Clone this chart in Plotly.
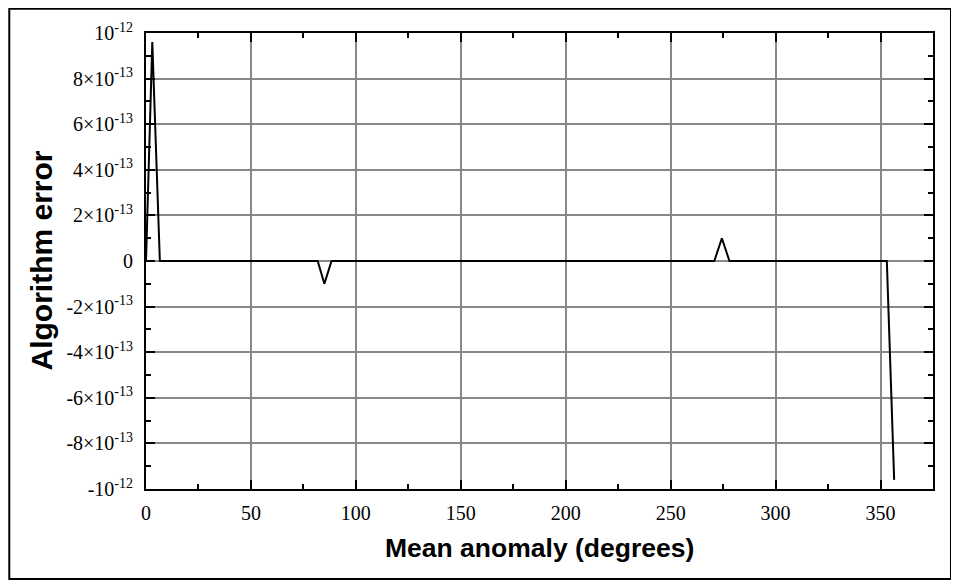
import plotly.graph_objects as go

# Data (mean anomaly in degrees, algorithm error)
mean_anomaly = [0, 3.0, 6.6, 81.8, 85.0, 88.4, 270.8, 274.4, 278.0, 353.0, 356.5]
algorithm_error = [0, 9.6e-13, 0, 0, -1.0e-13, 0, 0, 1.0e-13, 0, 0, -9.6e-13]

x_ticks = [0, 50, 100, 150, 200, 250, 300, 350]
y_tickvals = [-1e-12, -8e-13, -6e-13, -4e-13, -2e-13, 0, 2e-13, 4e-13, 6e-13, 8e-13, 1e-12]
y_ticktext = ["-10<sup>-12</sup>", "-8×10<sup>-13</sup>", "-6×10<sup>-13</sup>",
              "-4×10<sup>-13</sup>", "-2×10<sup>-13</sup>", "0",
              "2×10<sup>-13</sup>", "4×10<sup>-13</sup>", "6×10<sup>-13</sup>",
              "8×10<sup>-13</sup>", "10<sup>-12</sup>"]

# page body has an 8px margin, so the figure is drawn 8px right/down
W, H = 951, 573
L, R, T, B = 137.5, 925, 25, 481

fig = go.Figure()
fig.add_trace(go.Scatter(x=mean_anomaly, y=algorithm_error, mode="lines",
                         line=dict(color="black", width=2), showlegend=False))

tickfont = dict(family="Liberation Serif", size=20, color="black")

fig.update_xaxes(range=[0, 375], tickvals=x_ticks, ticks="inside", ticklen=9, tickwidth=2,
                 tickcolor="black", showline=True, linecolor="black", linewidth=2,
                 mirror="allticks", showgrid=True, gridcolor="#888888", gridwidth=1.5,
                 zeroline=False, tickfont=tickfont, ticklabelstandoff=5,
                 minor=dict(dtick=25, tick0=0, ticks="inside", ticklen=5, tickwidth=2,
                            tickcolor="black", showgrid=False))
fig.update_yaxes(range=[-1e-12, 1e-12], tickvals=y_tickvals, ticktext=y_ticktext,
                 ticks="inside", ticklen=9, tickwidth=2, tickcolor="black",
                 showline=True, linecolor="black", linewidth=2, mirror="allticks",
                 showgrid=True, gridcolor="#888888", gridwidth=1.5, zeroline=False,
                 tickfont=tickfont, ticklabelstandoff=7,
                 minor=dict(dtick=1e-13, tick0=0, ticks="inside", ticklen=5, tickwidth=2,
                            tickcolor="black", showgrid=False))

pw, ph = R - L, B - T
def px(x):
    return (x - L) / pw
def py(y):
    return (B - y) / ph

fig.update_layout(
    width=W, height=H,
    margin=dict(l=L, r=W - R, t=T, b=H - B, pad=0),
    paper_bgcolor="white", plot_bgcolor="white",
    shapes=[dict(type="rect", xref="paper", yref="paper",
                 x0=px(0.7), x1=px(943), y0=py(571), y1=py(0.7),
                 line=dict(color="black", width=2), layer="below")],
    annotations=[
        dict(text="<b>Mean anomaly (degrees)</b>", xref="paper", yref="paper",
             x=0.5, y=0, yshift=-59, xanchor="center", yanchor="middle",
             showarrow=False,
             font=dict(family="Liberation Sans", size=26.5, color="black")),
        dict(text="<b>Algorithm error</b>", xref="paper", yref="paper",
             x=0, y=0.5, xshift=-105.5, xanchor="center", yanchor="middle",
             textangle=-90, showarrow=False,
             font=dict(family="Liberation Sans", size=30, color="black")),
    ],
)

fig.write_html("out.html")
